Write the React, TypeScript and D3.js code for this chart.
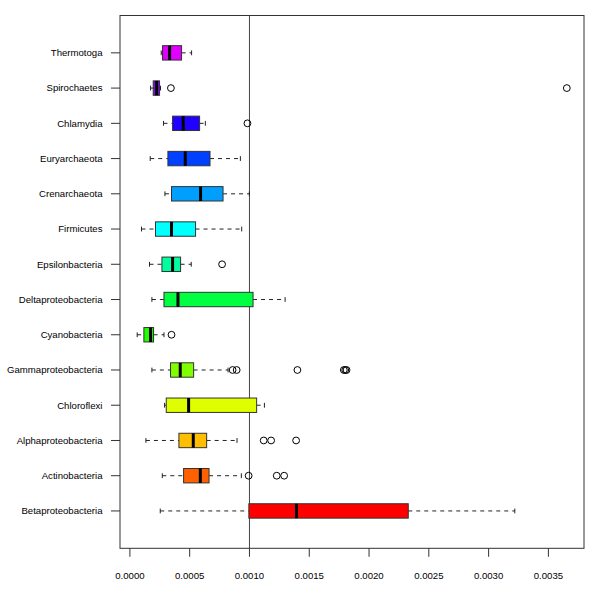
import React from "react";
import * as d3 from "d3";

// Categories from top to bottom
const categories = [
  "Thermotoga", "Spirochaetes", "Chlamydia", "Euryarchaeota", "Crenarchaeota",
  "Firmicutes", "Epsilonbacteria", "Deltaproteobacteria", "Cyanobacteria",
  "Gammaproteobacteria", "Chloroflexi", "Alphaproteobacteria", "Actinobacteria",
  "Betaproteobacteria",
];
const whiskerLow = [0.000262, 0.000173, 0.000281, 0.000170, 0.000293, 0.000097, 0.000164, 0.000184, 0.000061, 0.000184, 0.000290, 0.000134, 0.000271, 0.000254];
const quartile1 = [0.000273, 0.000195, 0.000357, 0.000318, 0.000348, 0.000214, 0.000268, 0.000285, 0.000117, 0.000340, 0.000304, 0.000410, 0.000449, 0.000995];
const medians = [0.000332, 0.000223, 0.000446, 0.000463, 0.000591, 0.000348, 0.000357, 0.000402, 0.000173, 0.000421, 0.000491, 0.000530, 0.000589, 0.001393];
const quartile3 = [0.000432, 0.000248, 0.000583, 0.000670, 0.000779, 0.000549, 0.000424, 0.001030, 0.000198, 0.000533, 0.001060, 0.000642, 0.000662, 0.002328];
const whiskerHigh = [0.000516, 0.000256, 0.000631, 0.000924, 0.000999, 0.000935, 0.000513, 0.001298, 0.000285, 0.000821, 0.001125, 0.000896, 0.000932, 0.003219];
const outliers: number[][] = [
  [],
  [0.000343, 0.003654],
  [0.000983],
  [],
  [],
  [],
  [0.000771],
  [],
  [0.000348],
  [0.000859, 0.000893, 0.001401, 0.001789, 0.001801, 0.001812],
  [],
  [0.001119, 0.001181, 0.001390],
  [0.000993, 0.001228, 0.001290],
  [],
];
const fillColors = [
  "#DF00FF", "#8000FF", "#2000FF", "#0040FF", "#009FFF", "#00FFFF", "#00FF9F",
  "#00FF40", "#20FF00", "#80FF00", "#DFFF00", "#FFBF00", "#FF6000", "#FF0000",
];
const xTicks = [0, 0.0005, 0.001, 0.0015, 0.002, 0.0025, 0.003, 0.0035];
const refLine = 0.001;

const W = 600, H = 600;
const left = 120, right = 584, top = 15.5, bottom = 548.3;
const font = "'Liberation Sans', Arial, Helvetica, sans-serif";

export default function App() {
  const all = [...whiskerLow, ...whiskerHigh, ...outliers.flat()];
  const mn = d3.min(all)!, mx = d3.max(all)!;
  const pad = (mx - mn) * 0.04;
  const x = d3.scaleLinear().domain([mn - pad, mx + pad]).range([left, right]);
  const n = categories.length;
  // R-like positions: 1..n from bottom, axis range [0.5 - 0.56, n + 0.5 + 0.56]
  const ext = n * 0.04;
  const y = d3.scaleLinear().domain([0.5 - ext, n + 0.5 + ext]).range([bottom, top]);
  const posOf = (i: number) => y(n - i);
  const bh = 7.2;
  const sh = 2.4;

  return (
    <svg width={W} height={H} style={{ position: "absolute", left: 0, top: 0, background: "#fff" }}>
      {/* reference line */}
      <line x1={x(refLine)} x2={x(refLine)} y1={top} y2={bottom} stroke="#444" strokeWidth={1} />
      {categories.map((c, i) => {
        const cy = posOf(i);
        return (
          <g key={c}>
            <line x1={x(whiskerLow[i])} x2={x(quartile1[i])} y1={cy} y2={cy} stroke="#222" strokeDasharray="4,4" />
            <line x1={x(quartile3[i])} x2={x(whiskerHigh[i])} y1={cy} y2={cy} stroke="#222" strokeDasharray="4,4" />
            <line x1={x(whiskerLow[i])} x2={x(whiskerLow[i])} y1={cy - sh} y2={cy + sh} stroke="#222" />
            <line x1={x(whiskerHigh[i])} x2={x(whiskerHigh[i])} y1={cy - sh} y2={cy + sh} stroke="#222" />
            <rect x={x(quartile1[i])} y={cy - bh} width={x(quartile3[i]) - x(quartile1[i])} height={bh * 2}
              fill={fillColors[i]} stroke="#333" strokeWidth={1} />
            <line x1={x(medians[i])} x2={x(medians[i])} y1={cy - bh} y2={cy + bh} stroke="#000" strokeWidth={3} />
            {outliers[i].map((v, j) => (
              <circle key={j} cx={x(v)} cy={cy} r={3.4} fill="none" stroke="#000" strokeWidth={1} />
            ))}
            <line x1={left - 9} x2={left} y1={cy} y2={cy} stroke="#333" />
            <text x={left - 17.5} y={cy} dy="0.35em" textAnchor="end" fontFamily={font} fontSize={9.6} fill="#000">{c}</text>
          </g>
        );
      })}
      {/* frame */}
      <rect x={left} y={top} width={right - left} height={bottom - top} fill="none" stroke="#333" strokeWidth={1} />
      {xTicks.map((t) => (
        <g key={t}>
          <line x1={x(t)} x2={x(t)} y1={bottom} y2={bottom + 8.5} stroke="#333" />
          <text x={x(t)} y={576} dy="0.35em" textAnchor="middle" fontFamily={font} fontSize={9.6} fill="#000">{d3.format(".4f")(t)}</text>
        </g>
      ))}
    </svg>
  );
}
